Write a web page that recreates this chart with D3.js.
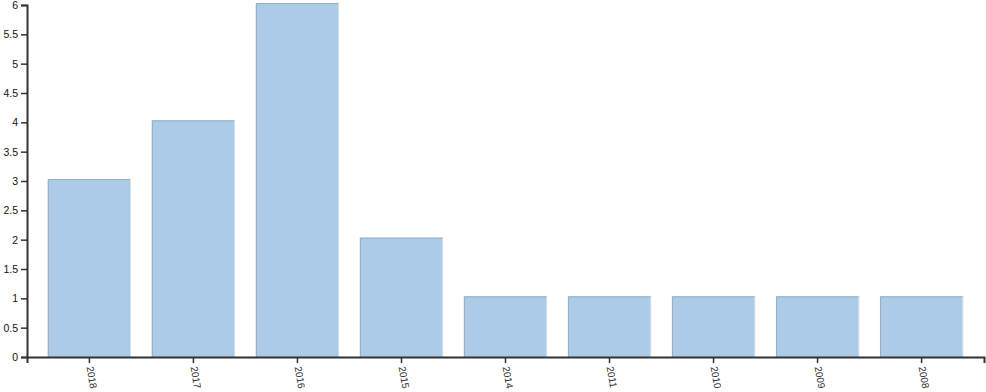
<!DOCTYPE html>
<html>
<head>
<meta charset="utf-8">
<script src="https://cdn.jsdelivr.net/npm/d3@7"></script>
<style>
  body { margin: 0; background: #fff; }
  svg { display: block; font-family: "Liberation Sans", Arial, sans-serif; }
</style>
</head>
<body>
<script>
const years = ["2018", "2017", "2016", "2015", "2014", "2011", "2010", "2009", "2008"];
const counts = [3, 4, 6, 2, 1, 1, 1, 1, 1];
const yTicks = [0, 0.5, 1, 1.5, 2, 2.5, 3, 3.5, 4, 4.5, 5, 5.5, 6];

const width = 986, height = 392;
const margin = {top: 5, right: 2, bottom: 35, left: 27};

const svg = d3.select("body").append("svg")
    .attr("width", width)
    .attr("height", height);

const x = d3.scaleBand()
    .domain(years)
    .range([margin.left, width - margin.right])
    .padding(0.2);

const y = d3.scaleLinear()
    .domain([0, 6])
    .range([height - margin.bottom, margin.top]);

const data = years.map((d, i) => ({year: d, value: counts[i]}));

const bar = svg.append("g")
  .selectAll("g")
  .data(data)
  .join("g");

// bars sit a touch above their value line, like the original's shadowed rects
const lift = 2;

bar.append("rect")
    .attr("x", d => x(d.year))
    .attr("y", d => y(d.value) - lift)
    .attr("width", x.bandwidth())
    .attr("height", d => y(0) - y(d.value) + lift)
    .attr("fill", "#abcbe7");

// soft edge: gray on top and left, light on the right
bar.append("path")
    .attr("d", d => `M${x(d.year) + 0.5},${y(0)}V${y(d.value) - lift + 0.5}H${x(d.year) + x.bandwidth()}`)
    .attr("fill", "none")
    .attr("stroke", "#9aabbb")
    .attr("stroke-width", 1);

bar.append("line")
    .attr("x1", d => x(d.year) + x.bandwidth() - 0.5)
    .attr("x2", d => x(d.year) + x.bandwidth() - 0.5)
    .attr("y1", d => y(d.value) - lift)
    .attr("y2", y(0))
    .attr("stroke", "#d2e2f0");

const xAxis = svg.append("g")
    .attr("transform", `translate(0,${y(0)})`)
    .call(d3.axisBottom(x).tickSizeOuter(6));

xAxis.selectAll("text")
    .attr("text-anchor", "start")
    .attr("dx", null)
    .attr("dy", null)
    .attr("x", 0)
    .attr("y", 0)
    .attr("transform", "translate(-3,10) rotate(80)")
    .attr("font-size", 10)
    .attr("fill", "#333");

const yAxis = svg.append("g")
    .attr("transform", `translate(${margin.left},0)`)
    .call(d3.axisLeft(y).tickValues(yTicks).tickFormat(d3.format("~g")).tickSizeOuter(6));

yAxis.selectAll("text")
    .attr("font-size", 10.5)
    .attr("fill", "#111");

svg.selectAll(".domain")
    .attr("stroke", "#333")
    .attr("stroke-width", 2);
svg.selectAll(".tick line")
    .attr("stroke", "#333")
    .attr("stroke-width", 1.5);
</script>
</body>
</html>
